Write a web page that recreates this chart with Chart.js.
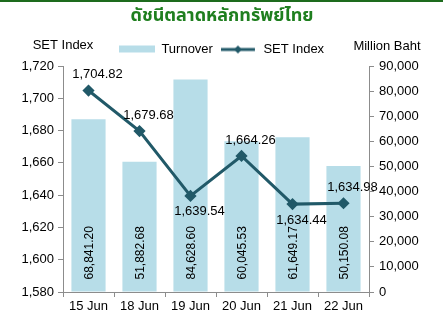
<!DOCTYPE html>
<html>
<head>
<meta charset="utf-8">
<script src="https://cdn.jsdelivr.net/npm/chart.js@4.4.0/dist/chart.umd.min.js"></script>
<style>
  body { margin: 0; background: #fff; }
  #wrap { width: 443px; height: 322px; position: relative; border-top: 2px solid #1d6b1d; box-sizing: border-box; }
</style>
</head>
<body>
<div id="wrap"><canvas id="myChart"></canvas></div>
<script>
const days = ['15 Jun', '18 Jun', '19 Jun', '20 Jun', '21 Jun', '22 Jun'];
const turnover = [68841.20, 51882.68, 84628.60, 60045.53, 61649.17, 50150.08];
const setIndex = [1704.82, 1679.68, 1639.54, 1664.26, 1634.44, 1634.98];
const labelSide = ['above', 'above', 'below', 'above', 'below', 'above'];

const barColor = '#b7dde8';
const lineColor = '#215968';
const axisColor = '#8c8c8c';
const font = 'Liberation Sans, Arial, sans-serif';

// little pictures for the legend
function legendIcon(kind) {
  const c = document.createElement('canvas');
  c.width = 36; c.height = 10;
  const g = c.getContext('2d');
  if (kind == 'bar') {
    g.fillStyle = barColor;
    g.fillRect(0, 1, 36, 7);
  } else {
    g.strokeStyle = lineColor;
    g.lineWidth = 3;
    g.beginPath(); g.moveTo(0, 5); g.lineTo(34, 5); g.stroke();
    g.fillStyle = lineColor;
    g.beginPath(); g.moveTo(17, 1); g.lineTo(21, 5); g.lineTo(17, 9); g.lineTo(13, 5); g.closePath(); g.fill();
  }
  return c;
}

const fmt = (v, d) => v.toLocaleString('en-US', { minimumFractionDigits: d, maximumFractionDigits: d });

const extras = {
  id: 'extras',
  afterDraw(chart) {
    const ctx = chart.ctx;
    const yL = chart.scales.y, yR = chart.scales.y1;
    ctx.save();
    // title
    ctx.font = 'bold 18px "Noto Sans Thai", "Noto Sans", sans-serif';
    ctx.fillStyle = '#1f7f1f';
    ctx.textAlign = 'center';
    ctx.textBaseline = 'middle';
    ctx.fillText('ดัชนีตลาดหลักทรัพย์ไทย', 222, 15);
    // axis titles
    ctx.font = '13px ' + font;
    ctx.fillStyle = '#000';
    ctx.fillText('SET Index', yL.right, 43);
    ctx.fillText('Million Baht', yR.left + 18, 44);

    // bar labels
    const bars = chart.getDatasetMeta(0);
    ctx.font = '12px ' + font;
    bars.data.forEach((el, i) => {
      ctx.save();
      ctx.translate(el.x, el.base - 12);
      ctx.rotate(-Math.PI / 2);
      ctx.textAlign = 'left';
      ctx.textBaseline = 'middle';
      ctx.fillText(fmt(turnover[i], 2), 0, 1);
      ctx.restore();
    });

    // line labels
    const pts = chart.getDatasetMeta(1);
    ctx.font = '13px ' + font;
    ctx.textAlign = 'center';
    pts.data.forEach((el, i) => {
      const dy = labelSide[i] == 'above' ? -16 : 16;
      ctx.fillText(fmt(setIndex[i], 2), el.x + 9, el.y + dy);
    });
    ctx.restore();
  }
};

new Chart(document.getElementById('myChart'), {
  data: {
    labels: days,
    datasets: [
      {
        type: 'bar',
        label: 'Turnover',
        data: turnover,
        backgroundColor: barColor,
        yAxisID: 'y1',
        categoryPercentage: 1,
        barPercentage: 0.67,
        order: 2
      },
      {
        type: 'line',
        label: 'SET Index',
        data: setIndex,
        borderColor: lineColor,
        backgroundColor: lineColor,
        borderWidth: 3,
        pointStyle: 'rectRot',
        pointRadius: 4,
        tension: 0,
        yAxisID: 'y',
        order: 1
      }
    ]
  },
  options: {
    responsive: true,
    maintainAspectRatio: false,
    animation: false,
    layout: { padding: { top: 33, left: 0, right: 0, bottom: 0 } },
    plugins: {
      tooltip: { enabled: false },
      legend: {
        position: 'top',
        labels: {
          usePointStyle: true,
          pointStyleWidth: 36,
          padding: 8,
          color: '#000',
          font: { family: font, size: 13 },
          generateLabels: (chart) => chart.data.datasets.map((ds, i) => ({
            text: ds.label,
            pointStyle: legendIcon(i == 0 ? 'bar' : 'line'),
            datasetIndex: i,
            fontColor: '#000',
            lineWidth: 0
          }))
        }
      }
    },
    scales: {
      x: {
        offset: true,
        grid: { offset: true, drawOnChartArea: false, color: axisColor, tickLength: 5 },
        border: { color: axisColor },
        ticks: { color: '#000', font: { family: font, size: 13 }, padding: 2, maxRotation: 0 },
        afterFit: (s) => { s.height = 30; }
      },
      y: {
        position: 'left',
        min: 1580, max: 1720,
        ticks: { stepSize: 20, color: '#000', font: { family: font, size: 13 }, padding: 4, callback: (v) => fmt(v, 0) },
        grid: { drawOnChartArea: false, color: axisColor, tickLength: 5 },
        border: { color: axisColor },
        afterFit: (s) => { s.width = 63; }
      },
      y1: {
        position: 'right',
        min: 0, max: 90000,
        ticks: { stepSize: 10000, color: '#000', font: { family: font, size: 13 }, padding: 5, callback: (v) => fmt(v, 0) },
        grid: { drawOnChartArea: false, color: axisColor, tickLength: 5 },
        border: { color: axisColor },
        afterFit: (s) => { s.width = 74; }
      }
    }
  },
  plugins: [extras]
});
</script>
</body>
</html>
